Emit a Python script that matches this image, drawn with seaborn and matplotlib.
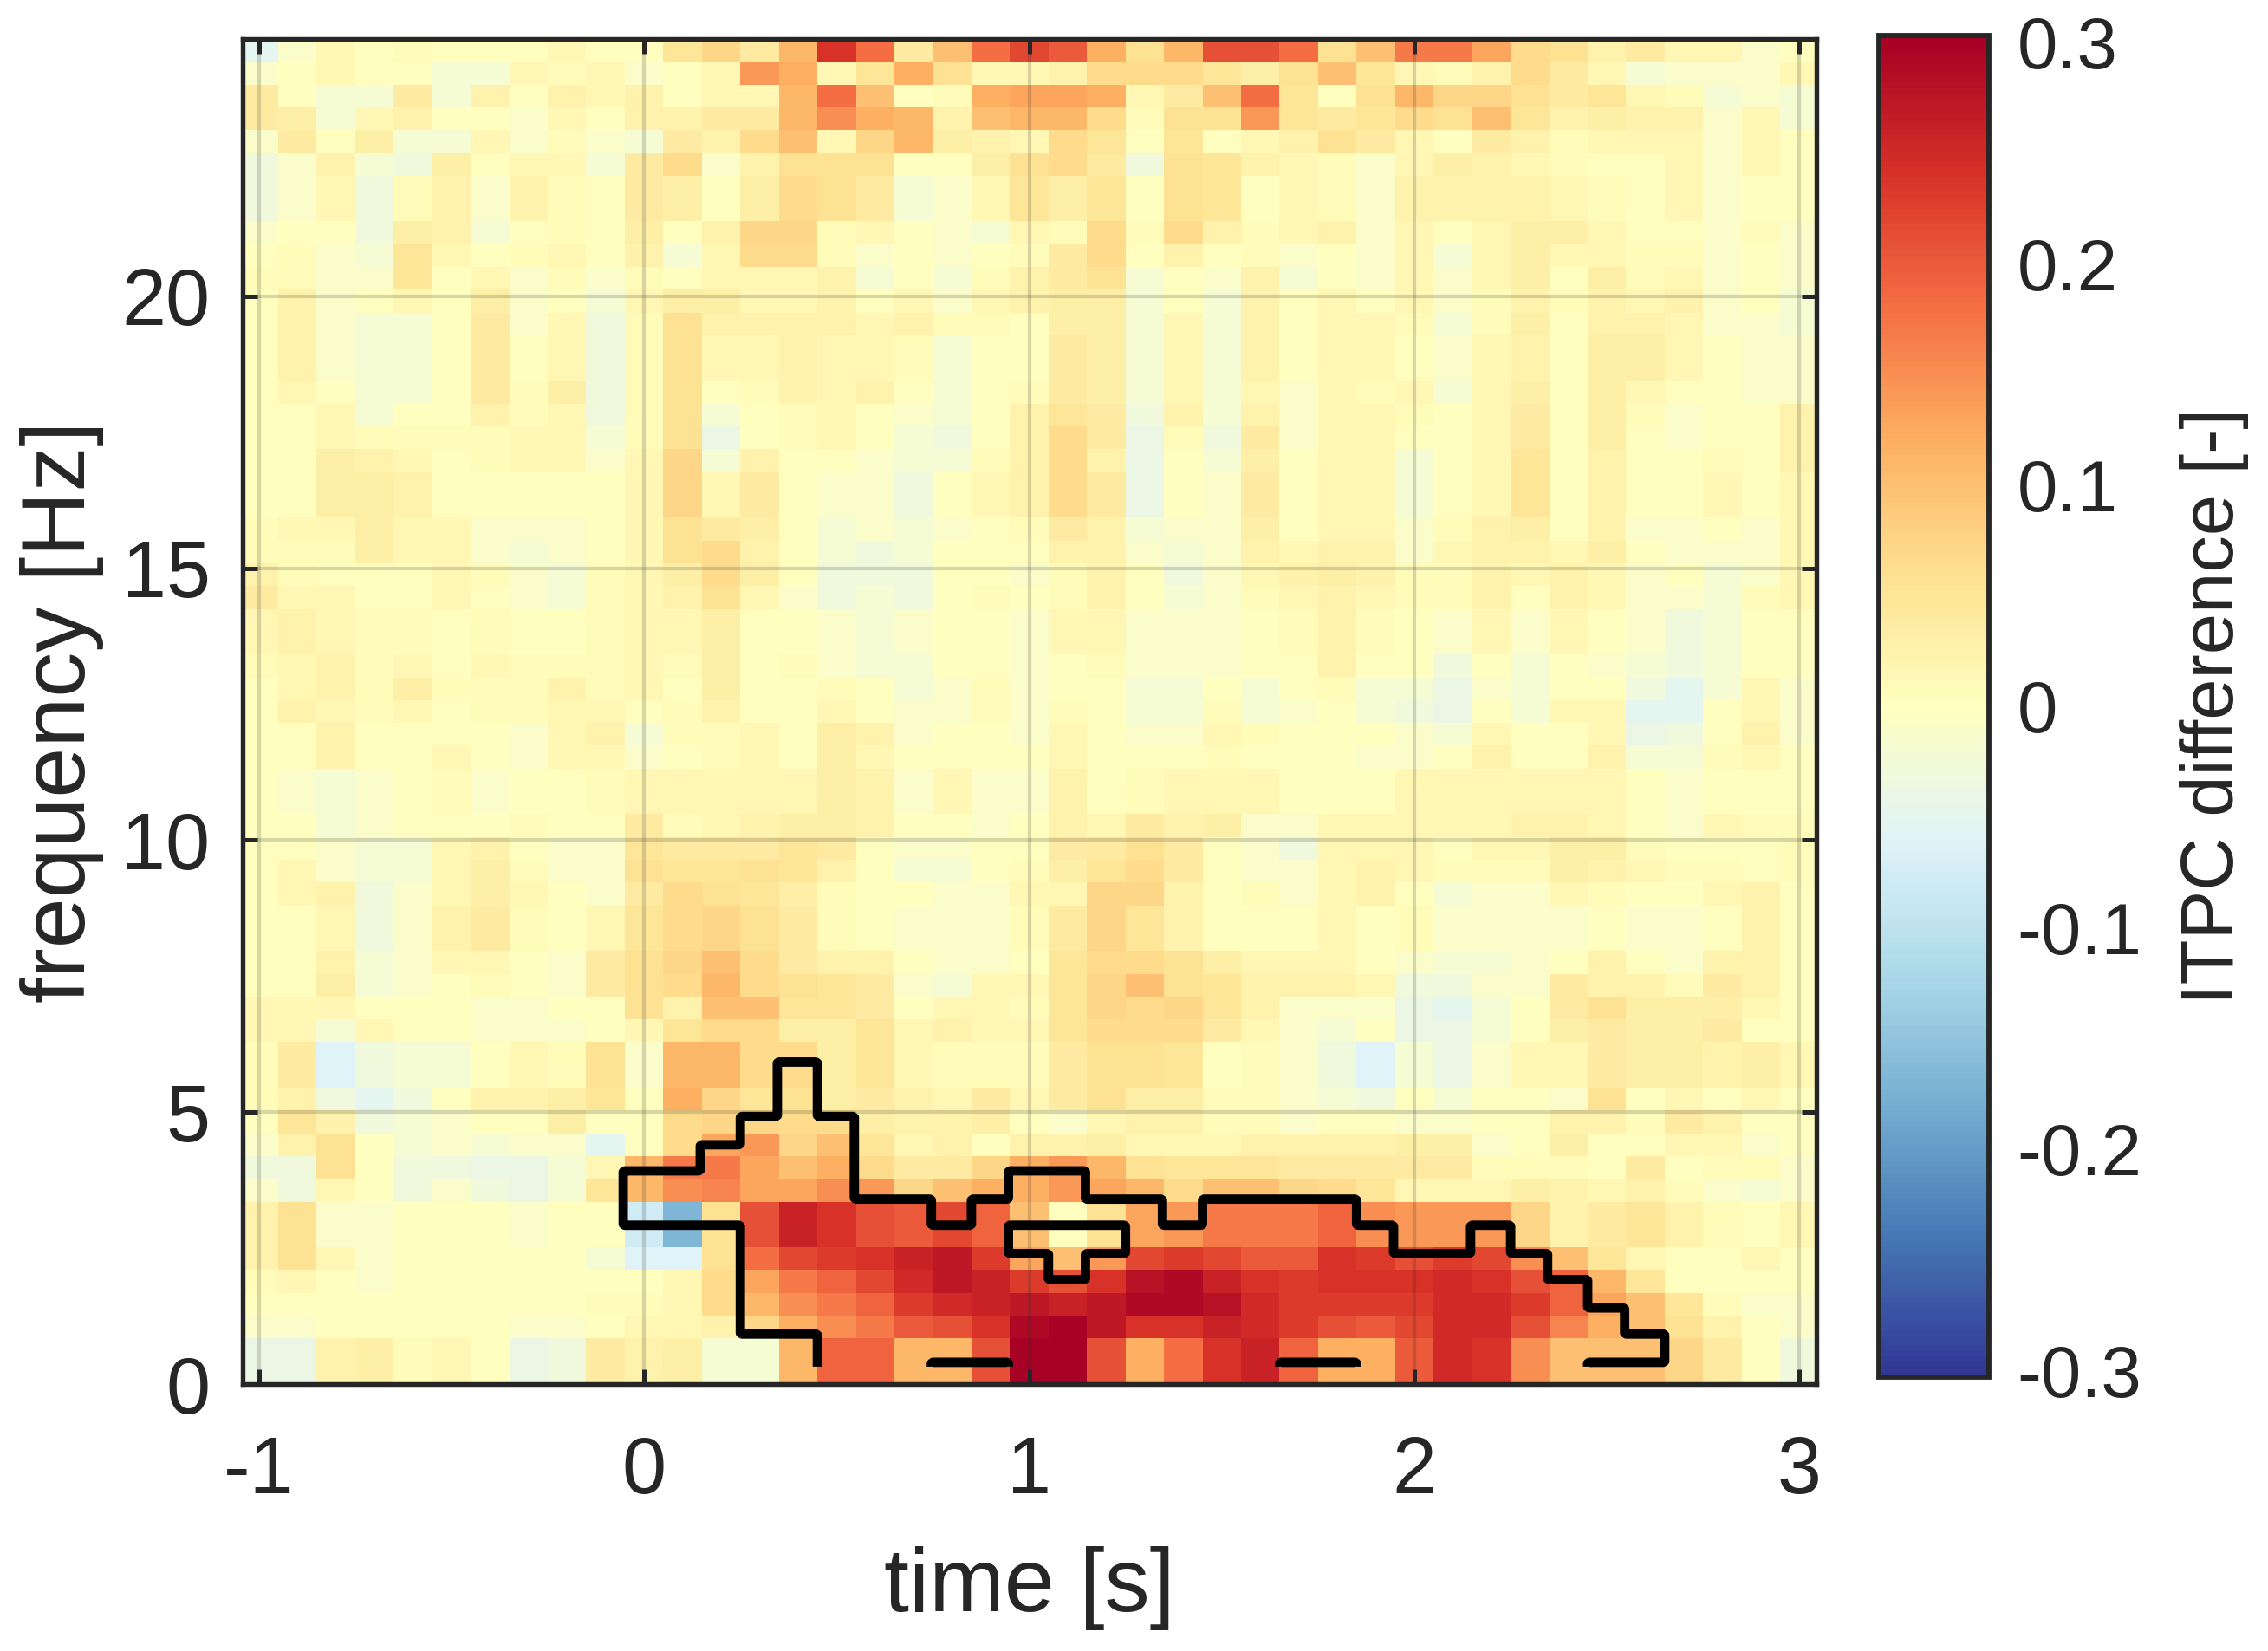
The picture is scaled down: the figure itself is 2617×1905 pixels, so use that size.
import numpy as np
import pandas as pd
import matplotlib
matplotlib.use("Agg")
import matplotlib.pyplot as plt
import seaborn as sns

sns.set_theme(style="white")
plt.rcParams["font.family"] = ["Liberation Sans", "DejaVu Sans"]
INK = "#262626"

# time of each column (s)
times = [round(-1.0 + 0.1 * i, 1) for i in range(41)]
# how many frequency rows of 0.419 Hz each band spans, top to bottom
band_span = [1,1,1,1,1,1,2,1,1,1,1,1,2,1,1,1,1,2,1,1,1,1,2,1,1,1,1,1,2,1,1,1,1,2,1,1,1,1,2,1,1,1,1,1,2,1,1,1,1,2]

# ITPC difference in hundredths, one list per band, top band first
itpc_high = [
 [-5,-1,2,0,1,0,0,0,2,0,0,6,9,5,11,24,18,5,10,18,22,20,12,7,11,21,21,18,7,10,17,17,13,8,7,3,5,2,2,-1,0],
 [-1,0,2,0,0,-2,-2,2,1,2,-1,0,2,14,12,2,6,12,7,2,2,3,8,8,8,6,4,7,10,6,2,1,3,8,5,2,-2,-1,-1,-1,2],
 [5,0,-2,-2,5,-2,3,0,3,2,3,0,2,2,11,18,10,0,1,12,13,13,12,2,5,10,18,6,0,7,11,9,9,7,5,6,2,1,-2,-1,-2],
 [5,4,-2,2,3,0,0,-1,2,0,3,3,5,5,11,15,12,11,3,10,11,11,8,1,7,7,14,6,5,6,8,7,10,6,3,4,3,3,-1,2,-2],
 [-1,5,0,4,-2,-2,2,-1,1,-1,-2,5,3,8,10,2,9,11,4,3,2,8,6,0,6,0,2,3,7,5,2,0,5,3,1,2,2,2,-1,2,0],
 [-3,-1,3,-2,-3,4,0,2,2,-2,5,8,-1,3,7,7,7,0,0,4,7,8,5,-3,7,6,3,2,1,-1,2,4,3,2,1,0,0,2,-1,2,0],
 [-3,-1,2,-3,1,3,-1,3,1,0,5,4,0,4,8,7,5,-2,-1,2,6,4,6,0,7,6,0,2,1,-1,3,3,3,3,2,1,0,2,-1,0,0],
 [-1,0,0,-3,4,3,-2,0,1,0,4,0,3,9,9,1,2,0,-1,-2,2,1,8,1,8,3,1,2,3,-1,2,0,2,4,4,2,0,0,-1,1,-1],
 [0,1,-1,-2,6,2,0,1,2,0,3,-2,2,8,8,1,-1,0,-1,0,1,5,8,0,3,0,1,-1,0,-1,2,-2,2,4,2,2,1,1,-1,0,-1],
 [1,1,-1,-1,6,0,2,-1,1,-1,1,0,2,2,2,3,-2,0,-2,1,3,5,7,-2,0,-1,3,-2,0,-1,2,-1,2,4,0,4,1,2,-1,0,-1],
 [0,3,-1,0,2,0,4,-1,0,-2,2,4,4,2,2,3,0,2,-1,2,3,4,4,-2,0,-2,3,0,2,0,2,-1,1,3,1,3,2,3,-1,0,-2],
 [0,3,-1,-2,-2,0,5,-1,2,-3,1,7,3,3,3,3,2,3,1,1,0,4,4,-2,2,-2,3,0,2,2,1,-2,1,4,0,3,3,2,-1,-1,-2],
 [0,3,-1,-2,-2,0,5,0,2,-3,1,7,2,2,3,2,2,1,-2,0,0,5,4,-2,2,-2,3,0,2,2,0,-1,2,3,0,4,4,2,0,-1,-1],
 [0,2,0,-2,-2,0,5,1,4,-3,1,7,0,1,3,2,3,0,-2,0,1,5,4,-2,2,-2,2,-1,2,1,2,-2,2,4,0,4,2,0,0,-1,-1],
 [0,0,2,-2,0,0,3,1,2,-3,1,7,-2,0,1,2,0,-1,-2,0,3,6,5,-3,3,-2,3,-1,2,2,1,0,2,5,0,4,1,-1,0,0,3],
 [0,0,2,1,1,1,1,2,2,-2,1,7,-4,0,1,2,0,-2,-3,0,3,8,5,-4,1,-3,5,-1,2,2,0,0,2,5,0,4,0,-1,0,0,3],
 [0,0,4,3,2,0,1,2,2,-1,2,9,-2,3,0,0,-1,-2,-2,1,3,8,3,-4,0,-2,4,0,2,2,-2,0,2,6,0,3,0,0,1,0,3],
]
itpc_mid = [
 [0,0,4,4,3,0,0,0,0,0,2,9,2,5,0,-1,-1,-3,0,2,3,8,5,-4,0,-1,5,0,2,2,-2,0,2,6,0,3,0,0,2,0,2],
 [1,2,2,4,2,2,-1,-1,-1,0,2,7,5,4,0,-2,-1,-2,-1,0,1,5,3,-2,-1,-1,4,0,2,2,-1,1,3,4,0,3,-1,-1,0,-1,2],
 [1,1,1,4,2,2,-1,-2,-1,0,2,7,8,3,0,-2,-3,-2,0,0,0,3,3,-1,-2,-1,3,2,3,3,-1,2,3,3,2,4,0,-1,-1,-1,2],
 [3,1,0,0,0,2,1,-1,-2,1,2,4,8,4,0,-3,-3,-3,0,0,-1,1,3,0,-3,-1,2,3,4,3,1,1,3,2,3,2,-1,0,-2,-1,2],
 [5,2,2,0,0,2,0,-1,-2,1,2,3,7,2,-1,-3,-2,-3,0,1,0,1,3,0,-2,-1,1,2,3,2,1,1,3,0,3,2,-1,-1,-2,1,2],
 [2,3,2,1,1,0,1,0,0,1,2,2,4,0,0,-1,-2,-1,0,0,-1,2,2,-1,-1,-1,0,1,3,1,0,-1,2,-1,2,0,-1,-3,-2,0,0],
 [1,2,3,1,2,0,2,1,1,1,2,1,4,0,1,-1,-2,-2,0,0,-1,0,1,-1,-1,-1,0,0,3,0,0,-3,0,-2,0,-1,-2,-3,-2,0,0],
 [0,2,3,1,4,1,1,1,3,1,2,0,4,0,0,1,0,-2,-1,1,-1,0,0,-2,-2,0,-2,0,1,-2,-2,-4,-1,-2,0,0,-3,-5,-2,2,-1],
 [0,3,2,1,2,0,1,1,2,2,0,1,3,0,0,2,0,-1,-1,1,-1,1,0,-2,-2,1,-2,-1,0,-2,-3,-4,0,-2,2,2,-5,-5,0,2,-1],
 [0,0,3,0,0,0,0,-1,2,3,-2,1,1,2,0,4,3,-1,0,0,-1,2,0,-1,-1,2,1,0,0,0,-1,-2,2,0,0,2,-4,-3,0,3,-1],
 [0,0,3,0,0,2,0,-1,2,2,-1,0,1,2,0,4,2,0,0,0,0,2,0,0,0,1,0,0,0,-1,-1,0,3,0,0,3,-2,-2,1,2,0],
 [0,-1,-2,-1,0,1,-1,0,0,1,2,2,2,2,2,4,3,-1,2,-1,-1,3,0,1,2,2,2,0,0,0,2,2,2,2,2,2,0,-1,0,0,0],
 [0,0,-2,-1,0,0,0,1,0,0,5,1,2,3,4,4,3,0,0,-1,0,3,2,5,3,4,-1,-1,2,2,2,2,2,3,3,2,0,-1,2,1,1],
 [0,0,-1,-2,-2,2,3,0,-1,-1,6,5,5,5,6,5,0,-1,-1,0,0,5,5,7,5,0,-1,-3,2,2,2,0,2,2,4,4,1,0,0,0,1],
 [0,2,-1,-2,-2,2,4,1,-1,-1,7,6,6,7,6,3,0,-2,-2,0,1,4,6,8,5,0,-1,-1,2,3,2,1,1,1,4,3,2,1,1,0,1],
 [0,2,3,-3,-1,2,4,2,0,-1,5,8,7,6,4,1,0,0,-1,-1,2,2,9,9,3,0,1,-1,2,3,0,-2,-1,-1,2,1,0,0,2,3,0],
 [0,0,2,-3,-1,3,5,1,0,2,6,8,9,7,5,1,0,-1,-1,-1,1,5,9,6,3,0,0,0,2,0,1,-1,-1,-1,-1,0,-1,-1,0,3,0],
]
itpc_low = [
 [0,0,3,-2,-1,2,2,0,-1,5,7,9,10,8,5,3,3,0,-1,-1,0,6,8,8,7,4,2,2,2,0,-1,-2,-2,-1,0,3,0,-1,3,3,0],
 [0,0,4,-2,-1,0,1,0,-1,5,7,8,11,8,7,6,5,-1,-2,2,2,6,9,10,7,6,3,3,3,2,-3,-3,-1,-1,5,3,3,1,5,3,0],
 [2,2,2,0,0,0,-1,-1,0,0,7,3,10,10,6,6,5,0,2,2,1,6,9,8,9,6,3,-1,-1,-1,-4,-5,-2,0,5,7,4,4,4,2,0],
 [2,2,-2,2,0,0,-1,-1,-1,0,2,6,8,8,4,4,6,2,3,2,2,6,8,8,8,5,2,-1,-2,0,-4,-4,-2,0,4,5,4,4,5,0,0],
 [1,5,-6,-3,-2,-2,0,2,1,7,-1,11,11,8,8,4,6,2,1,1,1,5,7,7,6,0,1,-1,-3,-6,-2,-4,-1,2,2,5,4,4,3,4,2],
 [1,3,-3,-5,-3,0,3,3,4,6,0,12,9,6,7,4,5,3,2,5,2,5,7,4,4,1,1,-1,-2,-3,0,-2,0,0,-1,7,0,2,0,2,0],
 [0,6,3,-3,-2,-1,0,0,4,0,0,8,9,9,8,8,4,3,3,4,0,-1,2,3,3,1,1,-1,0,0,-1,-1,0,0,3,3,1,5,3,0,0],
 [-1,3,7,0,-2,-1,-2,-1,-1,-5,0,8,13,14,9,10,6,2,3,0,3,3,4,2,2,2,3,3,3,3,4,4,-1,0,4,0,0,2,2,-1,0],
 [-3,-3,7,0,-3,-3,-4,-4,-2,2,11,17,17,13,10,12,8,5,5,9,12,14,11,7,6,6,6,5,5,5,5,5,1,1,1,0,5,0,1,1,-1],
 [-1,-3,2,0,-3,-1,-3,-4,-2,6,11,15,16,13,13,15,14,9,10,12,12,14,13,11,8,10,10,9,8,6,2,2,2,4,3,2,3,1,-1,-2,-1],
 [3,7,-1,-1,0,0,0,-1,0,0,-8,-17,7,21,26,24,21,20,22,19,10,0,7,13,14,17,17,17,19,15,14,14,14,9,3,5,6,3,1,0,2],
 [3,7,2,-1,0,0,0,0,0,-2,-6,-6,7,18,22,23,24,26,27,23,13,10,14,22,23,22,20,20,24,23,21,23,22,15,10,6,2,0,0,2,0],
 [1,2,0,-1,0,0,0,0,0,0,0,2,8,13,17,19,22,25,27,26,23,21,24,28,29,26,24,23,24,24,24,25,24,21,19,11,6,0,0,0,0],
 [0,0,0,0,0,0,0,0,0,1,1,2,8,11,15,17,19,23,25,26,27,26,27,29,29,28,25,23,23,23,23,25,25,23,19,13,10,6,1,-1,-1],
 [-1,-1,0,0,0,0,0,-1,-1,0,2,2,3,9,12,15,17,20,21,24,29,30,27,24,24,26,25,23,21,20,22,25,25,21,16,12,10,7,3,0,-1],
 [-4,-4,3,4,1,2,0,-4,-3,5,3,4,-2,-2,11,19,19,11,11,21,30,30,21,12,18,24,26,19,12,12,20,25,24,15,10,10,10,9,5,0,-3],
]

# significant cluster: for 0.5 Hz rows (upper edges in Hz), time spans (s) that are inside it
cluster_top_hz = [0.4, 0.9, 1.4, 1.9, 2.4, 2.9, 3.4, 3.9, 4.4, 4.9, 5.4, 5.9]
cluster_spans = [
 [(0.45, 0.75), (0.95, 1.65), (1.85, 2.45)],
 [(0.45, 2.65)],
 [(0.25, 2.55)],
 [(0.25, 2.45)],
 [(0.25, 1.05), (1.15, 2.35)],
 [(0.25, 0.95), (1.25, 1.95), (2.15, 2.25)],
 [(-0.05, 0.75), (0.85, 1.35), (1.45, 1.85)],
 [(-0.05, 0.55), (0.95, 1.15)],
 [(0.15, 0.55)],
 [(0.25, 0.55)],
 [(0.35, 0.45)],
 [(0.35, 0.45)],
]
cluster_floor_hz = 0.32
# the pale tints were read a little strong from the picture
pale_reading_factor = 0.8

x_ticks = [-1, 0, 1, 2, 3]
y_ticks = [0, 5, 10, 15, 20]
cbar_ticks = [-0.3, -0.2, -0.1, 0, 0.1, 0.2, 0.3]
cbar_ticklabels = ["-0.3", "-0.2", "-0.1", "0", "0.1", "0.2", "0.3"]

W, H = 2617, 1905
fig = plt.figure(figsize=(W / 300, H / 300), dpi=300)
ax = fig.add_axes([280 / W, 1 - 1597 / H, 1816 / W, 1552 / H])
cax = fig.add_axes([2168 / W, 1 - 1589 / H, 127 / W, 1548 / H])

bands = np.array(itpc_high + itpc_mid + itpc_low, dtype=float)
bands = np.where((bands > 0) & (bands < 10), bands * pale_reading_factor, bands) * 0.01
rows = np.repeat(bands, band_span, axis=0)
n_rows = rows.shape[0]
f_top = 24.73
row_hz = f_top / n_rows
freq_labels = [round(f_top - (i + 0.5) * row_hz, 2) for i in range(n_rows)]
frame = pd.DataFrame(rows, index=freq_labels, columns=times)

sns.heatmap(frame, ax=ax, cbar_ax=cax, cmap="RdYlBu_r", vmin=-0.303, vmax=0.303,
            xticklabels=False, yticklabels=False, linewidths=0, rasterized=False)

to_x = lambda t: (np.asarray(t, dtype=float) + 1.05) / 0.1
to_y = lambda f: n_rows - np.asarray(f, dtype=float) / row_hz

# cluster outline from the significance mask
t_fine = np.arange(-0.25, 2.95, 0.008)
f_fine = np.concatenate(([cluster_floor_hz], np.arange(0.34, 6.5, 0.04)))
mask = np.zeros((f_fine.size, t_fine.size))
lows = [0.0] + cluster_top_hz[:-1]
for lo, hi, spans in zip(lows, cluster_top_hz, cluster_spans):
    fsel = (f_fine >= lo) & (f_fine < hi)
    for a, b in spans:
        tsel = (t_fine >= a) & (t_fine < b)
        mask[np.ix_(fsel, tsel)] = 1
ax.contour(to_x(t_fine), to_y(f_fine), mask, levels=[0.5], colors="black",
           linewidths=2.6, zorder=4)

ax.set_xlim(to_x(-1.042), to_x(3.044))
ax.set_ylim(to_y(0), to_y(f_top))
ax.set_xticks(to_x(x_ticks))
ax.set_xticklabels([str(v) for v in x_ticks], rotation=0)
ax.set_yticks(to_y(y_ticks))
ax.set_yticklabels([str(v) for v in y_ticks], rotation=0)
ax.tick_params(axis="both", direction="in", top=True, right=True, bottom=True, left=True,
               length=4, width=1.2, color=INK, labelcolor=INK, labelsize=22, pad=9)
ax.tick_params(axis="x", pad=14.2)
ax.set_axisbelow(False)
ax.grid(True, color=INK, alpha=0.18, linewidth=1.0)
for s in ax.spines.values():
    s.set_visible(True)
    s.set_color(INK)
    s.set_linewidth(1.3)
    s.set_zorder(5)
ax.set_xlabel("time [s]", fontsize=25, color=INK, va="center")
ax.set_ylabel("frequency [Hz]", fontsize=25, color=INK, va="center")
ax.xaxis.set_label_coords(0.5, (1597 - 1833) / 1552)
ax.yaxis.set_label_coords((72 - 280) / 1816, 0.5)

cbar = ax.collections[0].colorbar
cbar.set_ticks(cbar_ticks)
cbar.set_ticklabels(cbar_ticklabels)
cbar.outline.set_edgecolor(INK)
cbar.outline.set_linewidth(1.4)
cax.tick_params(axis="y", direction="in", length=4, width=1.2, color=INK,
                labelcolor=INK, labelsize=20, pad=7.8, right=True, left=False)
cax.set_ylabel("ITPC difference [-]", fontsize=20.4, color=INK, va="center", rotation=90)
cax.yaxis.set_label_coords((2555 - 2168) / 127, 0.5)

fig.savefig("out.png", dpi=300, facecolor="white")
